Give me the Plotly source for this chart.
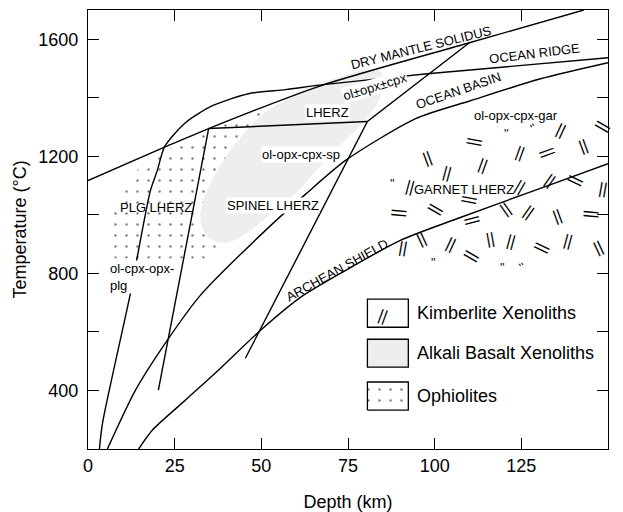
import plotly.graph_objects as go

# geotherms and phase boundaries: depth (km), temperature (C)
solidus_depth = [0, 22.4, 34.8, 67.1, 110.0, 143.0]
solidus_temp = [1117, 1233, 1295, 1441, 1588, 1700]

ridge_depth = [3.3, 4.2, 12.3, 14.3, 18.0, 20.0, 22.1, 28.1, 35.9, 46.3, 57.0, 67.9, 97.9, 150]
ridge_temp = [200, 289, 735, 862, 1083, 1152, 1233, 1315, 1373, 1414, 1428, 1445, 1482, 1537]

basin_depth = [5.6, 13.7, 22.9, 32.4, 51.2, 62.7, 74.3, 94.5, 110.3, 130.5, 150]
basin_temp = [200, 401, 572, 725, 947, 1070, 1186, 1329, 1390, 1465, 1520]

shield_depth = [14.6, 18.6, 28.1, 37.6, 49.8, 61.3, 72.8, 90.1, 107.4, 131.3, 150]
shield_temp = [200, 265, 367, 469, 606, 718, 800, 913, 991, 1094, 1175]

plg_sp_depth = [34.8, 20.3]
plg_sp_temp = [1295, 401]

lherz_top_depth = [34.8, 80.6]
lherz_top_temp = [1295, 1319]

sp_gar_depth = [110.0, 80.6, 45.4]
sp_gar_temp = [1588, 1319, 510]

# xenolith / ophiolite fields
alkali_depth = [32.5, 33.0, 35.3, 39.1, 44.0, 50.6, 56.4, 63.3, 72.8, 80.9, 84.4, 85.5,
                83.8, 80.6, 74.8, 67.9, 61.3, 53.2, 45.4, 39.7, 35.0, 32.5]
alkali_temp = [974, 1039, 1107, 1186, 1264, 1346, 1390, 1435, 1472, 1496, 1489, 1448,
               1390, 1332, 1261, 1179, 1090, 1008, 935, 905, 920, 974]

ophio_depth = [7.6, 7.1, 9.4, 14.6, 22.4, 34.8, 44.0, 52.1, 57.0, 50.3, 39.7, 38.8, 33.9, 7.6]
ophio_temp = [851, 998, 1077, 1158, 1220, 1288, 1329, 1363, 1373, 1186, 998, 879, 851, 851]

# kimberlite "||" marks: depth, temperature, orientation (deg)
kimb_depth = [111.8, 136.3, 148.7, 97.9, 103.7, 113.8, 124.7, 132.8, 142.9, 93.0, 110.3,
              124.7, 133.4, 140.9, 148.7, 90.1, 100.5, 111.2, 120.4, 127.1, 135.4, 145.5,
              91.0, 96.2, 104.6, 110.9, 116.1, 121.9, 131.4, 138.6, 147.0]
kimb_temp = [1250, 1291, 1298, 1196, 1145, 1172, 1213, 1213, 1237, 1097, 1049,
             1097, 1117, 1114, 1090, 1005, 1015, 981, 1022, 1012, 998, 1001,
             889, 920, 903, 855, 920, 913, 886, 913, 889]
kimb_angle = [100, 25, 120, -20, 15, 20, 20, 70, -20, 15, 100,
              30, 35, 115, 10, 95, 120, 75, -35, 35, -20, 95,
              10, -25, 25, 120, -10, 15, 115, 15, -25]
small_depth = [120.7, 128.5, 99.7, 119.6, 125.3, 87.8]
small_temp = [1278, 1298, 834, 817, 821, 1107]
small_angle = [0, -30, 0, 0, -25, 0]

# field labels
labels = ["DRY MANTLE SOLIDUS", "OCEAN RIDGE", "OCEAN BASIN", "ol±opx±cpx", "LHERZ",
          "ol-opx-cpx-sp", "SPINEL LHERZ", "PLG LHERZ", "GARNET LHERZ", "ol-opx-cpx-gar",
          "ARCHEAN SHIELD"]
label_depth = [96.2, 128.8, 106.9, 82.9, 69.1, 61.3, 53.5, 19.5, 108.6, 123.6, 71.7]
label_temp = [1571, 1551, 1424, 1438, 1349, 1206, 1032, 1025, 1087, 1339, 810]
label_angle = [-14, -7, -19, -17, 0, 0, 0, 0, 0, 0, -29]
label_bg = [False, False, False, True, True, True, True, False, False, False, False]

legend_names = ["Kimberlite Xenoliths", "Alkali Basalt Xenoliths", "Ophiolites"]

FONT = "Liberation Sans, Arial, sans-serif"

fig = go.Figure()

fig.add_trace(go.Scatter(x=ophio_depth, y=ophio_temp, mode="lines", fill="toself",
                         line=dict(width=0), fillcolor="rgba(0,0,0,0)",
                         fillpattern=dict(shape=".", fgcolor="black", bgcolor="white",
                                          size=11, solidity=0.04),
                         hoverinfo="skip"))
fig.add_trace(go.Scatter(x=alkali_depth, y=alkali_temp, mode="lines", fill="toself",
                         line=dict(width=0, shape="spline", smoothing=1.0),
                         fillcolor="#eeeeee", hoverinfo="skip"))

curves = [(solidus_depth, solidus_temp, "spline"), (ridge_depth, ridge_temp, "spline"),
          (basin_depth, basin_temp, "spline"), (shield_depth, shield_temp, "spline"),
          (plg_sp_depth, plg_sp_temp, "linear"), (lherz_top_depth, lherz_top_temp, "linear"),
          (sp_gar_depth, sp_gar_temp, "linear")]
for xs, ys, shp in curves:
    fig.add_trace(go.Scatter(x=xs, y=ys, mode="lines",
                             line=dict(color="black", width=1.4, shape=shp, smoothing=0.7),
                             hoverinfo="skip"))

# legend swatches
fig.add_shape(type="rect", x0=80.6, x1=92.4, y0=616, y1=712,
              line=dict(color="black", width=1.3), fillcolor="white")
fig.add_shape(type="rect", x0=80.6, x1=92.4, y0=480, y1=575,
              line=dict(color="black", width=1.3), fillcolor="#eeeeee")
fig.add_trace(go.Scatter(x=[80.6, 92.4, 92.4, 80.6, 80.6], y=[333, 333, 429, 429, 333],
                         mode="lines", fill="toself", line=dict(color="black", width=1.3),
                         fillcolor="rgba(0,0,0,0)",
                         fillpattern=dict(shape=".", fgcolor="black", bgcolor="white",
                                          size=11, solidity=0.04),
                         hoverinfo="skip"))

for x, y, a in zip(kimb_depth, kimb_temp, kimb_angle):
    fig.add_annotation(x=x, y=y, text="||", textangle=a, showarrow=False,
                       font=dict(family=FONT, size=16, color="black"))
for x, y, a in zip(small_depth, small_temp, small_angle):
    fig.add_annotation(x=x, y=y, text="''", textangle=a, showarrow=False,
                       font=dict(family=FONT, size=12, color="black"))
fig.add_annotation(x=85.0, y=657, text="||", textangle=20, showarrow=False,
                   font=dict(family=FONT, size=16, color="black"))

for t, x, y, a, bg in zip(labels, label_depth, label_temp, label_angle, label_bg):
    fig.add_annotation(x=x, y=y, text=t, textangle=a, showarrow=False,
                       bgcolor="white" if bg else None, borderpad=0,
                       font=dict(family=FONT, size=13, color="black"))
fig.add_annotation(x=6.2, y=787, text="ol-cpx-opx-<br>plg", showarrow=False, align="left",
                   xanchor="left", bgcolor="white", borderpad=0,
                   font=dict(family=FONT, size=13, color="black"))

for name, y in zip(legend_names, [664, 527, 381]):
    fig.add_annotation(x=94.4, y=y, text=name, showarrow=False, xanchor="left",
                       font=dict(family=FONT, size=18, color="black"))

# the page body adds an 8px offset, so the figure is sized to fit the window
fig.update_layout(
    width=615, height=504, autosize=False,
    margin=dict(l=80, r=15, t=2, b=63),
    paper_bgcolor="white", plot_bgcolor="white",
    showlegend=False,
    font=dict(family=FONT, size=18, color="black"),
)
fig.update_xaxes(range=[0, 150], tickvals=[0, 25, 50, 75, 100, 125, 150],
                 ticks="inside", ticklen=11, tickwidth=1.3, tickcolor="black",
                 showline=True, linecolor="black", linewidth=1.3, mirror="ticks",
                 showgrid=False, zeroline=False, automargin=False,
                 title=dict(text="Depth (km)", font=dict(size=18), standoff=20))
fig.update_yaxes(range=[200, 1700], tickvals=[400, 600, 800, 1000, 1200, 1400, 1600],
                 ticktext=["400", "", "800", "", "1200", "", "1600"],
                 ticks="inside", ticklen=11, tickwidth=1.3, tickcolor="black",
                 showline=True, linecolor="black", linewidth=1.3, mirror="ticks",
                 showgrid=False, zeroline=False, ticklabelstandoff=5, automargin=False,
                 title=dict(text="Temperature (°C)", font=dict(size=18), standoff=6))

fig.write_html("out.html")
